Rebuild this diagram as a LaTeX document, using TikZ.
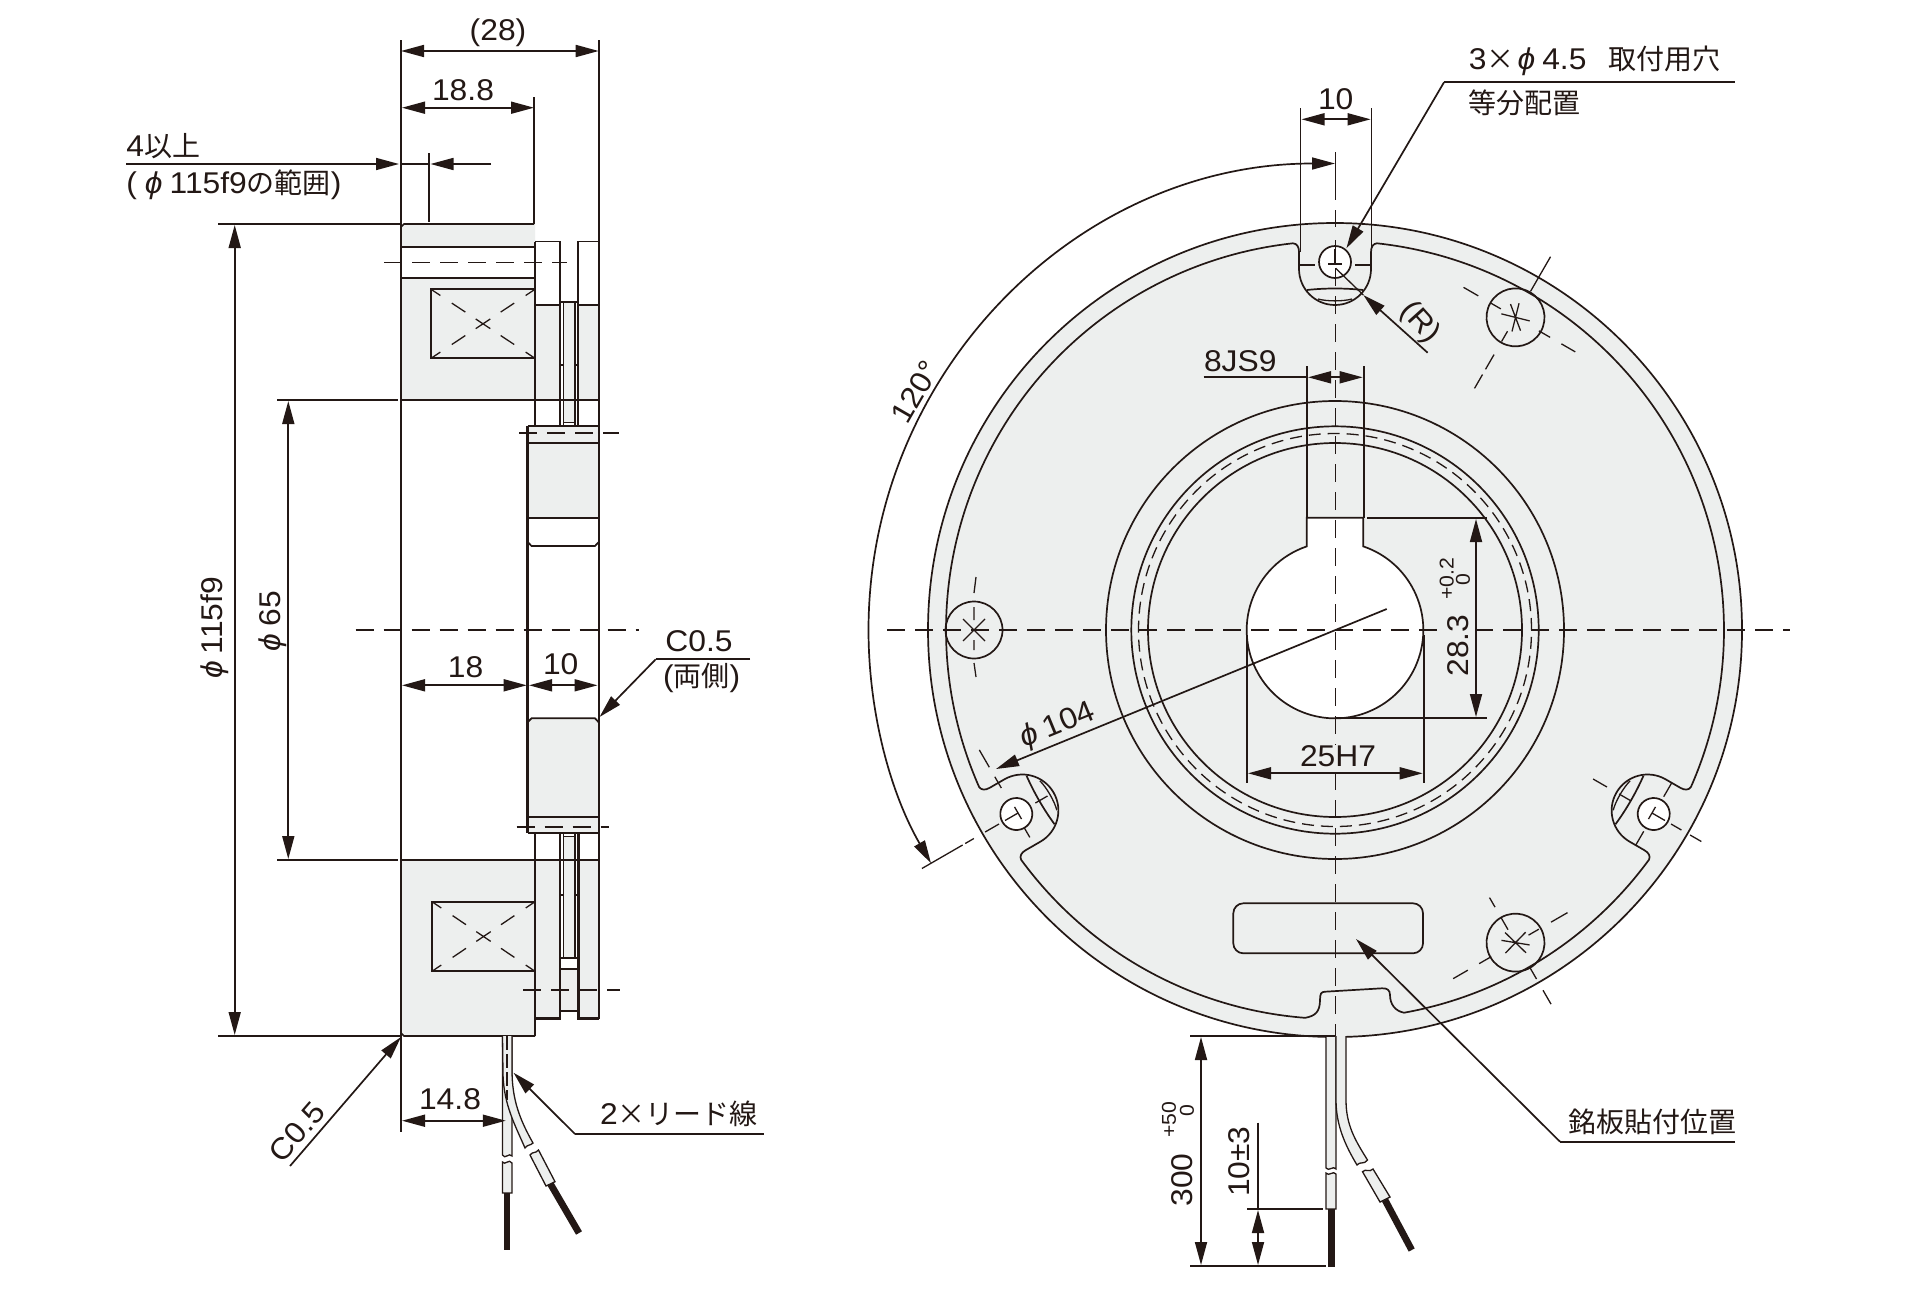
\documentclass[tikz,border=0pt]{standalone}
\usepackage{fontspec}
\usetikzlibrary{arrows.meta}
\setmainfont[FakeStretch=1.06]{Liberation Sans}
\newfontfamily\cjkf{Noto Sans CJK JP}
\newcommand\cjk{\fontsize{14}{16}\cjkf}
\definecolor{ink}{HTML}{231815}
\definecolor{gy}{HTML}{EDEFEE}
\newcommand\myphi{{\itshape ϕ}\kern3.5pt}
\newcommand\nch[1]{
  .. controls ([rotate=#1]38,386.4) and ([rotate=#1]36,383) .. ([rotate=#1]36,378)
  -- ([rotate=#1]36,361)
  .. controls ([rotate=#1]36,341.1) and ([rotate=#1]19.9,325) .. ([rotate=#1]0,325)
  .. controls ([rotate=#1]-19.9,325) and ([rotate=#1]-36,341.1) .. ([rotate=#1]-36,361)
  -- ([rotate=#1]-36,378)
  .. controls ([rotate=#1]-36,383) and ([rotate=#1]-38,386.4) .. ([rotate=#1]-42,386.7)
}
\newcommand\diagdash[4]{% x1 y1 x2 y2 : diagonal dash pieces
  \foreach \a/\b in {0/.09,.2/.33,.43/.57,.67/.8,.91/1}{
    \draw[th] ({#1+\a*(#3-#1)},{#2+\a*(#4-#2)}) -- ({#1+\b*(#3-#1)},{#2+\b*(#4-#2)});
  }
}
\newcommand\holeparts[1]{% local frame: y outward, hole at (0,368)
  \begin{scope}[rotate=#1]
    \draw[ln] (-28,340) .. controls (-10,342) and (10,342) .. (28,340);
    \draw[th] (-17,331) .. controls (-8,328.5) and (8,328.5) .. (17,331);
    \filldraw[ln,fill=white] (0,368) circle[radius=16];
    \draw[th] (-7,366) -- (7,366) (0,366) -- (0,381);
  \end{scope}
}
\tikzset{
  >={Triangle[length=11.5pt,width=6pt]},
  ln/.style={draw=ink,line width=0.85pt},
  th/.style={draw=ink,line width=0.65pt},
  tk/.style={draw=ink,line width=1.25pt},
  cl/.style={draw=ink,line width=0.7pt,dash pattern=on 9pt off 5pt},
  lab/.style={inner sep=0pt,text=ink,font=\fontsize{15}{17}\selectfont},
  sm/.style={inner sep=0pt,text=ink,font=\fontsize{10}{11}\selectfont},
  wire/.style={draw=ink,line width=0.65pt,fill=gy},
  blk/.style={draw=ink,line width=3.1pt,line cap=butt}
}
\begin{document}
\begin{tikzpicture}[x=0.5pt,y=-0.5pt]
\path[use as bounding box,fill=white] (0,0) rectangle (1920,1290);

%%% ---------- LEFT VIEW ---------- %%%
\fill[gy] (404,224) -- (535,224) -- (535,400) -- (401,400) -- (401,227) -- cycle;
\fill[white] (401,246.7) rectangle (535,278.3);
\fill[gy] (401,860) -- (535,860) -- (535,1036) -- (404,1036) -- (401,1033) -- cycle;
\fill[gy] (535,305) rectangle (560,400);
\fill[gy] (578.3,305) rectangle (598.7,400);
\fill[gy] (564,301.7) rectangle (574.5,422.7);
\fill[gy] (535,860) rectangle (560,1018.5);
\fill[gy] (578.3,860) rectangle (598.7,1018.5);
\fill[gy] (564,836.7) rectangle (574.5,958.3);
\fill[gy] (560,969) rectangle (578.3,1011);
% block
\draw[ln] (401,227) -- (404,224) -- (534,224);
\draw[ln] (401,1033) -- (404,1036) -- (535,1036);
\draw[ln] (401,246.7) -- (535,246.7) (401,278.3) -- (535,278.3);
\draw[ln] (401,400) -- (598.7,400) (401,860) -- (598.7,860);
\draw[ln] (534,97) -- (534,224);
\draw[ln] (401,40) -- (401,1131.7);
\draw[tk] (535,241.5) -- (535,426.5) (535,833.3) -- (535,1036);
% coil rectangles
\draw[ln] (431,289.3) rectangle (535,358.3);
\draw[ln] (432,901.7) rectangle (535,971.3);
\diagdash{431}{289.3}{535}{358.3}
\diagdash{431}{358.3}{535}{289.3}
\diagdash{432}{901.7}{535}{971.3}
\diagdash{432}{971.3}{535}{901.7}
% plates top
\draw[ln] (535,241.5) -- (560,241.5) -- (560,426.5);
\draw[ln] (578.3,426.5) -- (578.3,241.5) -- (598.7,241.5);
\draw[ln] (598.7,40) -- (598.7,426.5);
\draw[ln] (535,305) -- (560,305) (578.3,305) -- (598.7,305);
\draw[ln] (560,301.7) -- (578.3,301.7);
\draw[th] (563.5,301.7) -- (563.5,426.5) (575,301.7) -- (575,426.5);
\draw[th] (560,365) -- (564,365) (575,365) -- (578.3,365);
\draw[th] (564,422.7) -- (574.5,422.7);
% plates bottom
\draw[tk] (535,1018.5) -- (560,1018.5) -- (560,833.3);
\draw[tk] (578.3,833.3) -- (578.3,1018.5) -- (598.7,1018.5);
\draw[ln] (598.7,833.3) -- (598.7,1018.5);
\draw[th] (563.5,833.3) -- (563.5,958.3) (575,833.3) -- (575,958.3);
\draw[th] (560,895) -- (564,895) (575,895) -- (578.3,895);
\draw[th] (564,836.7) -- (574.5,836.7);
\draw[ln] (560,958.3) -- (578.3,958.3) (560,969) -- (578.3,969) (560,1011) -- (578.3,1011);
% hub
\fill[gy] (527.7,426.3) rectangle (598.7,518.3);
\fill[white] (527.7,518.3) rectangle (598.7,718.3);
\fill[gy] (527.7,718.3) rectangle (598.7,833.3);
\draw[tk] (527.7,426.3) -- (527.7,833.3);
\draw[ln] (527.7,426.3) -- (598.7,426.3) -- (598.7,833.3) -- (527.7,833.3);
\draw[ln] (527.7,442.7) -- (598.7,442.7) (527.7,518.3) -- (598.7,518.3) (527.7,816.7) -- (598.7,816.7);
\draw[ln] (527.7,542) -- (531.5,546) -- (595,546) -- (598.7,542);
\draw[ln] (527.7,722.3) -- (531.5,718.3) -- (595,718.3) -- (598.7,722.3);
% centre lines
\draw[cl] (384,262.7) -- (567,262.7);
\draw[cl] (519,433) -- (619,433);
\draw[cl] (516.5,827) -- (609,827);
\draw[cl] (523,990) -- (620,990);
\draw[cl] (355.7,630) -- (639,630);
% leads
\draw[wire] (502.5,1036) -- (502.5,1155) .. controls (505,1160) and (509,1152) .. (512,1156) -- (512,1036);
\draw[wire] (502.5,1162) .. controls (505,1166) and (509,1158) .. (512,1163) -- (512,1193) -- (502.5,1193) -- cycle;
\draw[blk,line width=3.4pt] (507,1193) -- (507,1250);
\draw[wire] (512,1036) -- (512,1070) .. controls (512,1100) and (520,1120) .. (533,1143)
  .. controls (530,1146) and (528,1144) .. (525,1148)
  .. controls (515,1125) and (504,1105) .. (503,1075) -- (502.5,1036);
\draw[wire] (530,1155) .. controls (533,1151) and (535,1154) .. (538.5,1150) -- (555,1181.7) -- (546,1186) -- cycle;
\draw[blk,line width=3.4pt] (550.5,1184) -- (579,1233);
\draw[th,dash pattern=on 7pt off 2pt] (507,1036) -- (507,1100);

% dimensions left
\draw[ln,<->] (401,51) -- (598.7,51);
\node[lab] (d28) at (498,33) {(28)};
\draw[ln,<->] (402,107.7) -- (534,107.7);
\node[lab] (d188) at (463,90) {18.8};
\draw[ln,->] (126,164) -- (399,164);
\draw[ln] (401,164) -- (429,164);
\draw[ln,->] (491,164) -- (430.5,164);
\draw[th] (429,153) -- (429,222);
\node[lab,anchor=west] (d4) at (126,146) {4{\cjk 以上}};
\node[lab,anchor=west] (d4b) at (126,185) {(\kern4pt\myphi 115f9{\cjk の範囲})};
\draw[ln] (218,224) -- (401,224) (218,1036) -- (402,1036);
\draw[ln,<->] (234.7,225) -- (234.7,1035);
\node[lab,rotate=90] (d115) at (215,628) {\myphi 115f9};
\draw[ln] (277,400) -- (398,400) (277,860) -- (398,860);
\draw[ln,<->] (288.3,401) -- (288.3,859);
\node[lab,rotate=90] (d65) at (273,621) {\myphi 65};
\draw[ln,<->] (402,685.3) -- (526.7,685.3);
\draw[ln,<->] (529,685.3) -- (597.5,685.3);
\node[lab] (d18) at (465.5,667) {18};
\node[lab] (d10) at (560.7,664) {10};
\draw[ln] (750,659.3) -- (655.7,659.3);
\draw[ln,->] (655.7,659.3) -- (599.5,717);
\node[lab] (c05a) at (699,641) {C0.5};
\node[lab] (c05b) at (701.7,678) {({\cjk 両側})};
\draw[ln,->] (290,1166) -- (401,1037);
\node[lab,rotate=49] (c05c) at (297,1132) {C0.5};
\draw[ln,<->] (402,1120.7) -- (505.8,1120.7);
\node[lab] (d148) at (450,1099) {14.8};
\draw[ln] (763.5,1134) -- (575,1134);
\draw[ln,->] (575,1134) -- (513.5,1072.7);
\node[lab] (lead) at (679,1114) {2{\cjk ×リード線}};

%%% ---------- RIGHT VIEW ---------- %%%
\begin{scope}[shift={(1335,630)},y=0.5pt]
  \filldraw[ln,fill=gy] (0,0) circle[radius=407];
  \draw[ln] (96.2:389) arc[start angle=96.2,end angle=203.8,radius=389]
    \nch{120}
    arc[start angle=216.2,end angle=265.6,radius=389]
    .. controls (-20,-386) and (-15,-382) .. (-15,-370)
    .. controls (-15,-364) and (-14,-361.7) .. (-10,-361.7)
    -- (47,-358.3)
    .. controls (52,-358) and (55,-360) .. (55,-365)
    .. controls (55,-374) and (60,-381) .. (69,-382.7)
    arc[start angle=280.2,end angle=323.8,radius=389]
    \nch{-120}
    arc[start angle=336.2,end angle=443.8,radius=389]
    \nch{0};
  \holeparts{0}
  \holeparts{120}
  \holeparts{-120}
  % hole centre dashes
  \draw[th] (-36,365)--(-20,365) (20,365)--(37,365);
  \begin{scope}[rotate=120]
    \draw[th] (0,477)--(0,430) (0,427)--(0,417) (0,404)--(0,388) (0,346)--(0,332);
    \draw[th] (30,368)--(43,368) (54,368)--(74,368) (-16,368)--(-27,368);
  \end{scope}
  \begin{scope}[rotate=-120]
    \draw[th] (0,423)--(0,410) (0,400)--(0,388) (0,342)--(0,328) (0,314)--(0,298);
    \draw[th] (20,368)--(36,368) (-20,368)--(-36,368);
  \end{scope}
  % screws
  \begin{scope}[shift={(60:361)},rotate=60]
    \draw[ln] (0,0) circle[radius=29];
    \draw[th] (-14,-4)--(14,4) (-4,14)--(4,-14) (-9,-11)--(9,11);
    \draw[th] (0,17)--(0,29) (0,43)--(0,60) (0,-27)--(0,-40) (0,-53)--(0,-69);
    \draw[th] (30,0)--(70,0) (-16,0)--(-28,0) (-43,0)--(-60,0) (-66,0)--(-82,0);
  \end{scope}
  \begin{scope}[shift={(180:361)}]
    \draw[ln] (0,0) circle[radius=28.5];
    \draw[th] (-11,-11)--(11,11) (-11,11)--(11,-11);
    \draw[th] (0,10)--(0,23) (0,37)--(2,53) (0,-10)--(0,-20) (0,-33)--(2,-47);
  \end{scope}
  \begin{scope}[shift={(300:361)},rotate=300]
    \draw[ln] (0,0) circle[radius=29];
    \draw[th] (-14,-4)--(14,4) (-4,14)--(4,-14) (-9,-11)--(9,11);
    \draw[th] (29,0)--(42,0) (55,0)--(71,0) (-15,0)--(-29,0) (-41,0)--(-52,0);
    \draw[th] (0,15)--(0,27) (0,41)--(0,60) (0,-28)--(0,-42) (0,-55)--(0,-72);
  \end{scope}
  % rings
  \draw[ln] (0,0) circle[radius=229];
  \draw[ln] (0,0) circle[radius=203.7];
  \draw[ln] (0,0) circle[radius=187];
  \draw[th,dash pattern=on 6pt off 3.5pt] (0,0) circle[radius=196.5];
  % bore
  \filldraw[ln,fill=white] (-28.3,112.3) -- (28.3,112.3) -- (28.3,83.6)
    arc[start angle=71.3,end angle=-251.3,radius=88.3] -- cycle;
  % nameplate
  \draw[ln,rounded corners=5pt] (-101.7,-273.3) rectangle (88,-323.3);
\end{scope}
% centre lines
\draw[cl] (887,630) -- (1790,630);
\draw[th] (1335.3,152) -- (1335.3,200) (1335.3,210) -- (1335.3,227) (1335.3,240) -- (1335.3,255);
\draw[cl] (1335.3,268) -- (1335.3,1036);
% leads
\draw[wire] (1326,1036) -- (1326,1168) .. controls (1329,1172) and (1333,1165) .. (1336,1169) -- (1336,1036);
\draw[wire] (1326,1173) .. controls (1329,1177) and (1333,1170) .. (1336,1174) -- (1336,1209) -- (1326,1209) -- cycle;
\draw[blk,line width=3.4pt] (1331.3,1209) -- (1331.3,1266.7);
\draw[wire] (1336,1036) -- (1336,1100) .. controls (1336,1125) and (1345,1145) .. (1357,1165)
  .. controls (1360,1161) and (1364,1165) .. (1367.5,1160)
  .. controls (1355,1140) and (1346,1125) .. (1346,1100) -- (1346,1036);
\draw[wire] (1362.5,1171.7) .. controls (1366,1168) and (1369,1173) .. (1373,1169) -- (1390,1197) -- (1380,1202) -- cycle;
\draw[blk,line width=3.4pt] (1385,1200) -- (1411.7,1250);
% dimensions right
\draw[ln] (1300.5,108) -- (1300.5,251.7) (1371.6,108) -- (1371.6,251.7);
\draw[ln,<->] (1301.5,119.3) -- (1370.6,119.3);
\node[lab] (r10) at (1335.7,99) {10};
\draw[ln,->] (1444,82.3) -- (1346.4,248.3);
\draw[ln] (1444,82.3) -- (1735,82.3);
\node[lab,anchor=west] (r3a) at (1468.5,60.7) {3{\cjk ×}\kern1.5pt\myphi 4.5\kern11pt{\cjk 取付用穴}};
\node[lab,anchor=west] (r3b) at (1468.5,103) {{\cjk 等分配置}};
% 120 arc
\begin{scope}[shift={(1335,630)},y=0.5pt]
  \draw[ln,<->] (90:466.5) arc[start angle=90,end angle=210,radius=466.5];
\end{scope}
\node[lab,rotate=60] (r120) at (915,392) {120°};
% (R)
\draw[th] (1335.7,268.3) -- (1363.3,295);
\draw[ln,->] (1427.6,352.7) -- (1363.3,295);
\node[lab,rotate=-48] (rR) at (1419.7,323) {(R)};
% 8JS9
\draw[ln] (1307,366) -- (1307,517.7) (1363.7,366) -- (1363.7,517.7);
\draw[ln,<->] (1308,377.3) -- (1362.7,377.3);
\draw[ln] (1203.6,377.3) -- (1307,377.3);
\node[lab,anchor=west] (r8) at (1203.6,361) {8JS9};
% 28.3
\draw[ln] (1367,517.7) -- (1486.7,517.7) (1335,718.3) -- (1486.7,718.3);
\draw[ln,<->] (1476,519) -- (1476,717);
\node[lab,rotate=90,fill=gy] (r283) at (1457.7,645.7) {28.3};
\node[sm,rotate=90] (r02) at (1446.7,579) {+0.2};
\node[sm,rotate=90] (r00) at (1463,580) {0};
% 25H7
\draw[ln] (1247,635) -- (1247,783) (1423.7,635) -- (1423.7,783);
\draw[ln,<->] (1248,773.3) -- (1422.7,773.3);
\node[lab,fill=gy] (r25) at (1338,755.7) {25H7};
% phi104
\draw[ln,->] (1386.7,609) -- (996,769);
\node[lab,rotate=22.3] (r104) at (1058,726) {\myphi 104};
% nameplate leader
\draw[ln] (1735,1141.7) -- (1560,1141.7);
\draw[ln,->] (1560,1141.7) -- (1356,939);
\node[lab] (rn) at (1652,1121.7) {{\cjk 銘板貼付位置}};
% 300
\draw[ln] (1190,1036) -- (1335,1036) (1190,1266) -- (1326,1266);
\draw[ln,<->] (1201,1037) -- (1201,1265);
\node[lab,rotate=90] (r300) at (1182.5,1180) {300};
\node[sm,rotate=90] (r50) at (1169,1120) {+50};
\node[sm,rotate=90] (r50b) at (1187,1111) {0};
% 10+-3
\draw[ln] (1247,1209) -- (1323,1209);
\draw[ln] (1258,1122.7) -- (1258,1210);
\draw[ln,<->] (1258,1210) -- (1258,1265);
\node[lab,rotate=90] (r103) at (1239.6,1161.7) {10±3};
\end{tikzpicture}
\end{document}
